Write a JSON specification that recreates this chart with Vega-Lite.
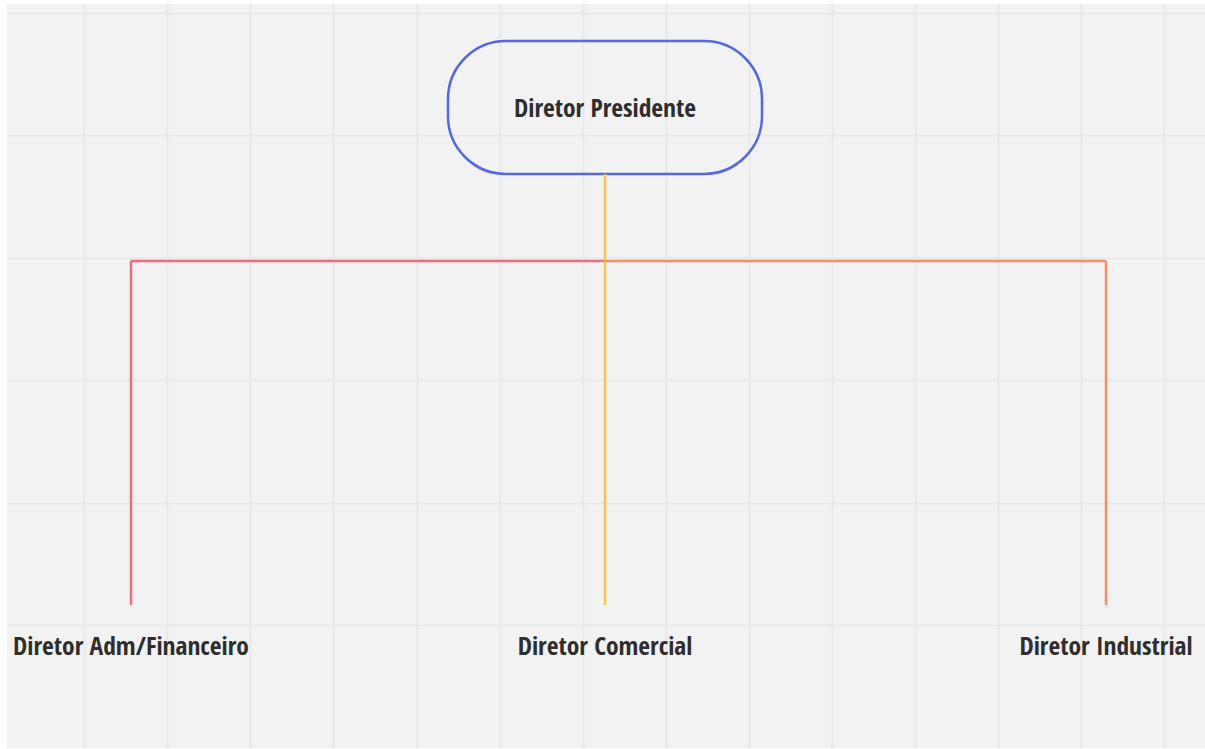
{
  "$schema": "https://vega.github.io/schema/vega-lite/v6.json",
  "width": 1198,
  "height": 744,
  "autosize": {"type": "none"},
  "padding": {"left": 7, "top": 4, "right": 0, "bottom": 1},
  "background": "#ffffff",
  "config": {
    "view": {"fill": "#f2f2f2", "stroke": null},
    "axis": {"grid": true, "gridColor": "#e8e8e8", "gridWidth": 2, "labels": false, "ticks": false, "domain": false, "title": null}
  },
  "datasets": {
    "nodes": [
      {"name": "Diretor Presidente", "x1": 448, "x2": 762, "y1": 41, "y2": 174, "cx": 605, "cy": 108.5}
    ],
    "edges": [
      {"branch": "Adm/Financeiro", "x": 131, "x2": 605, "y": 261, "y2": 261},
      {"branch": "Adm/Financeiro", "x": 131, "x2": 131, "y": 261, "y2": 605},
      {"branch": "Industrial", "x": 605, "x2": 1106, "y": 261, "y2": 261},
      {"branch": "Industrial", "x": 1106, "x2": 1106, "y": 261, "y2": 605},
      {"branch": "Comercial", "x": 605, "x2": 605, "y": 174, "y2": 605}
    ],
    "labels": [
      {"name": "Diretor Adm/Financeiro", "x": 131, "y": 646.5},
      {"name": "Diretor Comercial", "x": 605, "y": 646.5},
      {"name": "Diretor Industrial", "x": 1106, "y": 646.5}
    ]
  },
  "layer": [
    {
      "data": {"name": "nodes"},
      "mark": {"type": "rect", "cornerRadius": 58, "fill": "#f2f2f2", "fillOpacity": 0, "stroke": "#5468e0", "strokeWidth": 2.5},
      "encoding": {
        "x": {"field": "x1", "type": "quantitative", "scale": {"domain": [7, 1205], "nice": false, "zero": false},
              "axis": {"values": [84, 167, 250, 333, 417, 500, 583, 666, 749, 832, 915, 998, 1081, 1164]}},
        "x2": {"field": "x2"},
        "y": {"field": "y1", "type": "quantitative", "scale": {"domain": [4, 748], "nice": false, "zero": false, "reverse": true},
              "axis": {"values": [13, 135, 258, 380, 503, 625]}},
        "y2": {"field": "y2"}
      }
    },
    {
      "data": {"name": "edges"},
      "mark": {"type": "rule", "strokeWidth": 2.5, "strokeCap": "butt"},
      "encoding": {
        "x": {"field": "x", "type": "quantitative"},
        "x2": {"field": "x2"},
        "y": {"field": "y", "type": "quantitative"},
        "y2": {"field": "y2"},
        "color": {"field": "branch", "type": "nominal", "legend": null,
                  "scale": {"domain": ["Adm/Financeiro", "Comercial", "Industrial"], "range": ["#f26a80", "#f7c64a", "#f98d66"]}},
        "order": {"field": "branch"}
      }
    },
    {
      "data": {"name": "nodes"},
      "mark": {"type": "text", "font": "Open Sans Condensed, DejaVu Sans Condensed", "fontWeight": "bold", "fontSize": 25.5, "color": "#2e2e2e", "baseline": "middle", "align": "center"},
      "encoding": {
        "x": {"field": "cx", "type": "quantitative"},
        "y": {"field": "cy", "type": "quantitative"},
        "text": {"field": "name"}
      }
    },
    {
      "data": {"name": "labels"},
      "mark": {"type": "text", "font": "Open Sans Condensed, DejaVu Sans Condensed", "fontWeight": "bold", "fontSize": 25.5, "color": "#2e2e2e", "baseline": "middle", "align": "center"},
      "encoding": {
        "x": {"field": "x", "type": "quantitative"},
        "y": {"field": "y", "type": "quantitative"},
        "text": {"field": "name"}
      }
    }
  ]
}
